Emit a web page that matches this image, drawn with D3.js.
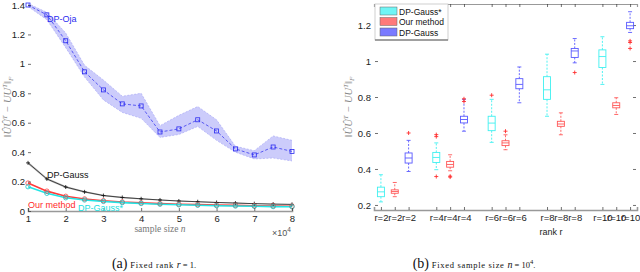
<!DOCTYPE html>
<html>
<head>
<meta charset="utf-8">
<script src="https://cdn.jsdelivr.net/npm/d3@7"></script>
<style>
  body { margin: 0; background: #fff; }
  svg { display: block; font-family: "Liberation Sans", Arial, sans-serif; }
  .tick text { font-size: 9.5px; fill: #222; }
  .tick line { stroke: #333; stroke-width: 0.7; }
  .serif { font-family: "Liberation Serif", "DejaVu Serif", serif; }
</style>
</head>
<body>
<svg id="chart" width="640" height="272"></svg>
<script>
// ---- left panel: error vs sample size (x in units of 10^4) ----
var sampleSizes = [1, 1.5, 2, 2.5, 3, 3.5, 4, 4.5, 5, 5.5, 6, 6.5, 7, 7.5, 8];
var ojaMean  = [1.40, 1.333, 1.157, 0.946, 0.823, 0.728, 0.714, 0.537, 0.558, 0.62, 0.544, 0.422, 0.381, 0.435, 0.405];
var ojaLow   = [1.39, 1.30, 1.11, 0.91, 0.755, 0.67, 0.63, 0.50, 0.52, 0.575, 0.48, 0.40, 0.354, 0.36, 0.34];
var ojaHigh  = [1.41, 1.35, 1.21, 0.99, 0.89, 0.78, 0.80, 0.58, 0.65, 0.71, 0.62, 0.44, 0.41, 0.51, 0.48];
var gaussMean = [0.327, 0.218, 0.163, 0.13, 0.105, 0.092, 0.083, 0.075, 0.068, 0.063, 0.058, 0.054, 0.05, 0.047, 0.045];
var gaussLow  = [0.317, 0.21, 0.156, 0.124, 0.1, 0.087, 0.079, 0.071, 0.064, 0.059, 0.055, 0.051, 0.047, 0.044, 0.042];
var gaussHigh = [0.337, 0.226, 0.17, 0.136, 0.11, 0.097, 0.087, 0.079, 0.072, 0.067, 0.061, 0.057, 0.053, 0.05, 0.048];
var oursMean = [0.19, 0.135, 0.1, 0.082, 0.07, 0.061, 0.055, 0.05, 0.046, 0.043, 0.04, 0.038, 0.036, 0.034, 0.032];
var starMean = [0.165, 0.12, 0.09, 0.075, 0.065, 0.057, 0.051, 0.046, 0.042, 0.039, 0.036, 0.034, 0.032, 0.03, 0.029];
var leftXTicks = [1, 2, 3, 4, 5, 6, 7, 8];
var leftYTicks = [0, 0.2, 0.4, 0.6, 0.8, 1, 1.2, 1.4];

// ---- right panel: boxplots vs rank ----
var rankLabels = ['r=2', 'r=4', 'r=6', 'r=8', 'r=10'];
var starQ1  = [0.246, 0.436, 0.613, 0.787, 0.964];
var starMed = [0.273, 0.464, 0.655, 0.84, 1.025];
var starQ3  = [0.299, 0.492, 0.693, 0.913, 1.062];
var starLo  = [0.217, 0.396, 0.548, 0.693, 0.87];
var starHi  = [0.368, 0.545, 0.787, 1.038, 1.135];
var starOut = [[], [0.591, 0.58, 0.358], [0.81], [], []];
var oursQ1  = [0.265, 0.41, 0.53, 0.637, 0.74];
var oursMed = [0.275, 0.425, 0.545, 0.65, 0.753];
var oursQ3  = [0.284, 0.442, 0.557, 0.665, 0.768];
var oursLo  = [0.246, 0.39, 0.507, 0.59, 0.703];
var oursHi  = [0.325, 0.479, 0.59, 0.712, 0.796];
var oursOut = [[], [0.36, 0.355], [0.61], [], []];
var gaussQ1  = [0.433, 0.656, 0.846, 1.02, 1.18];
var gaussMed = [0.461, 0.675, 0.87, 1.056, 1.196];
var gaussQ3  = [0.489, 0.693, 0.902, 1.07, 1.215];
var gaussLo  = [0.386, 0.61, 0.768, 0.99, 1.159];
var gaussHi  = [0.559, 0.787, 0.967, 1.125, 1.274];
var gaussOut = [[0.60], [0.79, 0.775], [], [0.936], [1.112, 1.103, 1.07]];
var rightYTicks = [0.2, 0.4, 0.6, 0.8, 1, 1.2];
var legendNames = ['DP-Gauss*', 'Our method', 'DP-Gauss'];

var svg = d3.select('#chart');

function normLabel(g, tx, ty) {
    // ||U^U^T - UU^T||_F, rotated
    var yl = g.append('text').attr('class', 'serif')
        .attr('transform', 'translate(' + tx + ',' + ty + ') rotate(-90)').attr('text-anchor', 'middle')
        .attr('font-size', 10.5).attr('fill', '#888').attr('font-style', 'italic');
    yl.append('tspan').text('\u2016\u00db\u00db');
    yl.append('tspan').attr('dy', -4).attr('font-size', 7).text('T');
    yl.append('tspan').attr('dy', 4).text(' \u2212 UU');
    yl.append('tspan').attr('dy', -4).attr('font-size', 7).text('T');
    yl.append('tspan').attr('dy', 4).text('\u2016');
    yl.append('tspan').attr('dy', 2).attr('font-size', 7).text('F');
}

function drawLeft() {
    var x = d3.scaleLinear().domain([1, 8]).range([28, 292]);
    var y = d3.scaleLinear().domain([0, 1.4]).range([211, 5]);
    var g = svg.append('g');
    var lineGen = d3.line()
        .x(function(d, i) { return x(sampleSizes[i]); })
        .y(function(d) { return y(d); });

    function band(lo, hi, fill, opacity) {
        var area = d3.area()
            .x(function(d, i) { return x(sampleSizes[i]); })
            .y0(function(d, i) { return y(lo[i]); })
            .y1(function(d, i) { return y(hi[i]); });
        g.append('path').datum(lo).attr('d', area)
            .attr('fill', fill).attr('fill-opacity', opacity).attr('stroke', 'none');
    }

    function line(values, color, dash, width) {
        g.append('path').datum(values).attr('d', lineGen)
            .attr('fill', 'none').attr('stroke', color)
            .attr('stroke-width', width).attr('stroke-dasharray', dash);
    }

    band(ojaLow, ojaHigh, '#c9c9fb', 0.95);
    line(ojaHigh, '#a3a3f5', '2,1.5', 0.6);
    line(ojaLow, '#a3a3f5', '2,1.5', 0.6);
    band(gaussLow, gaussHigh, '#aaaaaa', 0.8);

    line(ojaMean, '#3b3bf0', '3,2', 0.8);
    line(gaussMean, '#222', null, 0.8);
    line(oursMean, '#ff3b3b', null, 1.6);
    line(starMean, '#22e5e5', null, 1.6);

    g.selectAll('.sq').data(ojaMean).enter().append('rect')
        .attr('x', function(d, i) { return x(sampleSizes[i]) - 2; })
        .attr('y', function(d) { return y(d) - 2; })
        .attr('width', 4).attr('height', 4)
        .attr('fill', 'none').attr('stroke', '#2a2af0').attr('stroke-width', 0.8);
    g.selectAll('.pl').data(gaussMean).enter().append('path')
        .attr('d', function(d, i) {
            var cx = x(sampleSizes[i]), cy = y(d);
            return 'M' + (cx - 2) + ',' + cy + 'H' + (cx + 2) + 'M' + cx + ',' + (cy - 2) + 'V' + (cy + 2);
        })
        .attr('stroke', '#111').attr('stroke-width', 0.8);
    g.selectAll('.rc').data(oursMean).enter().append('circle')
        .attr('cx', function(d, i) { return x(sampleSizes[i]); })
        .attr('cy', function(d) { return y(d); })
        .attr('r', 2.2).attr('fill', 'none').attr('stroke', '#ff4040').attr('stroke-width', 0.8);
    g.selectAll('.cc').data(starMean).enter().append('circle')
        .attr('cx', function(d, i) { return x(sampleSizes[i]); })
        .attr('cy', function(d) { return y(d); })
        .attr('r', 2.2).attr('fill', 'none').attr('stroke', '#15c8c8').attr('stroke-width', 0.8);

    var xa = g.append('g').attr('transform', 'translate(0,211)')
        .call(d3.axisBottom(x).tickValues(leftXTicks).tickSize(-3).tickPadding(4).tickFormat(d3.format('d')));
    xa.select('.domain').attr('stroke', '#999').attr('stroke-width', 1.6);

    var ya = g.append('g').attr('transform', 'translate(28,0)')
        .call(d3.axisLeft(y).tickValues(leftYTicks).tickSize(-3).tickPadding(3).tickFormat(d3.format('')));
    ya.select('.domain').remove();

    g.append('text').attr('x', 272).attr('y', 236).attr('font-size', 9).attr('fill', '#555')
        .text('\u00d710').append('tspan').attr('dy', -4).attr('font-size', 6.5).text('4');

    g.append('text').attr('class', 'serif').attr('x', 160).attr('y', 232).attr('text-anchor', 'middle')
        .attr('font-size', 9.5).attr('fill', '#777')
        .text('sample size ').append('tspan').attr('font-style', 'italic').text('n');

    normLabel(g, 11, 107);

    g.append('text').attr('x', 47).attr('y', 22).attr('font-size', 9).attr('fill', '#2b2bf0').text('DP-Oja');
    g.append('text').attr('x', 47).attr('y', 178).attr('font-size', 9).attr('fill', '#111').text('DP-Gauss');
    g.append('text').attr('x', 28).attr('y', 208).attr('font-size', 9).attr('fill', '#ff2a2a').text('Our method');
    g.append('text').attr('x', 78).attr('y', 211).attr('font-size', 9).attr('fill', '#19e0e0').text('DP-Gauss*');

    var cap = g.append('text').attr('class', 'serif').attr('x', 154).attr('y', 268).attr('text-anchor', 'middle')
        .attr('fill', '#111');
    cap.append('tspan').attr('font-size', 14).text('(a)');
    cap.append('tspan').attr('font-size', 8.5).attr('letter-spacing', 0.7).text('  Fixed rank ');
    cap.append('tspan').attr('font-size', 10).attr('font-style', 'italic').text('r');
    cap.append('tspan').attr('font-size', 8.5).text(' = 1.');
}

function drawRight() {
    var x = d3.scaleLinear().domain([0.5, 19.5]).range([374, 637]);
    var y = d3.scaleLinear().domain([0.172, 1.317]).range([210, 4]);
    var g = svg.append('g');

    var methods = [
        { q1: starQ1, med: starMed, q3: starQ3, lo: starLo, hi: starHi, out: starOut, color: '#3ff0f0', offset: -1 },
        { q1: oursQ1, med: oursMed, q3: oursQ3, lo: oursLo, hi: oursHi, out: oursOut, color: '#ff5858', offset: 0 },
        { q1: gaussQ1, med: gaussMed, q3: gaussQ3, lo: gaussLo, hi: gaussHi, out: gaussOut, color: '#5a5aff', offset: 1 }
    ];

    var tickPos = [], tickLab = [];
    rankLabels.forEach(function(lab, gi) {
        methods.forEach(function(m) {
            tickPos.push(gi * 4 + 2 + m.offset);
            tickLab.push(lab);
        });
    });

    var xb = g.append('g').attr('transform', 'translate(0,210)')
        .call(d3.axisBottom(x).tickValues(tickPos).tickSize(-3).tickPadding(4)
            .tickFormat(function(d, i) { return tickLab[i]; }));
    xb.select('.domain').attr('stroke', '#999').attr('stroke-width', 1.6);
    xb.selectAll('.tick text').attr('font-size', 9);

    var xt = g.append('g').attr('transform', 'translate(0,4)')
        .call(d3.axisTop(x).tickValues(tickPos).tickSize(-3).tickFormat(''));
    xt.select('.domain').attr('stroke', '#999').attr('stroke-width', 1.2);

    var ya = g.append('g').attr('transform', 'translate(375,0)')
        .call(d3.axisLeft(y).tickValues(rightYTicks).tickSize(-3).tickPadding(4).tickFormat(d3.format('')));
    ya.select('.domain').remove();
    var yr = g.append('g').attr('transform', 'translate(636,0)')
        .call(d3.axisRight(y).tickValues(rightYTicks).tickSize(-3).tickFormat(''));
    yr.select('.domain').remove();

    var bw = 7;
    methods.forEach(function(m) {
        rankLabels.forEach(function(lab, gi) {
            var cx = x(gi * 4 + 2 + m.offset);
            var bg = g.append('g').attr('stroke', m.color).attr('fill', 'none').attr('stroke-width', 0.9);
            bg.append('line').attr('x1', cx).attr('x2', cx).attr('y1', y(m.q3[gi])).attr('y2', y(m.hi[gi]))
                .attr('stroke-dasharray', '2,1.5');
            bg.append('line').attr('x1', cx).attr('x2', cx).attr('y1', y(m.q1[gi])).attr('y2', y(m.lo[gi]))
                .attr('stroke-dasharray', '2,1.5');
            bg.append('line').attr('x1', cx - 2).attr('x2', cx + 2).attr('y1', y(m.hi[gi])).attr('y2', y(m.hi[gi]));
            bg.append('line').attr('x1', cx - 2).attr('x2', cx + 2).attr('y1', y(m.lo[gi])).attr('y2', y(m.lo[gi]));
            bg.append('rect').attr('x', cx - bw / 2).attr('y', y(m.q3[gi]))
                .attr('width', bw).attr('height', y(m.q1[gi]) - y(m.q3[gi]));
            bg.append('line').attr('x1', cx - bw / 2).attr('x2', cx + bw / 2)
                .attr('y1', y(m.med[gi])).attr('y2', y(m.med[gi]));
            m.out[gi].forEach(function(v) {
                var oy = y(v);
                g.append('path').attr('d', 'M' + (cx - 2) + ',' + oy + 'H' + (cx + 2) + 'M' + cx + ',' + (oy - 2) + 'V' + (oy + 2))
                    .attr('stroke', '#ff3030').attr('stroke-width', 0.9);
            });
        });
    });

    // legend
    var lg = g.append('g');
    lg.append('rect').attr('x', 375).attr('y', 4).attr('width', 73).attr('height', 36)
        .attr('fill', '#fff').attr('stroke', '#bbb').attr('stroke-width', 0.7);
    lg.append('line').attr('x1', 375).attr('x2', 448).attr('y1', 40).attr('y2', 40)
        .attr('stroke', '#888').attr('stroke-width', 1.4);
    var legFill = ['#6ff5f5', '#ff7a7a', '#7a7aff'];
    legendNames.forEach(function(name, i) {
        lg.append('rect').attr('x', 380).attr('y', 7 + i * 10.5).attr('width', 17).attr('height', 8)
            .attr('fill', legFill[i]).attr('stroke', '#666').attr('stroke-width', 0.5);
        lg.append('text').attr('x', 399).attr('y', 14.5 + i * 10.5).attr('font-size', 8.5).attr('fill', '#111').text(name);
    });

    g.append('text').attr('x', 551).attr('y', 235).attr('text-anchor', 'middle')
        .attr('font-size', 9).attr('fill', '#222').text('rank r');

    normLabel(g, 352, 107);

    var cap = g.append('text').attr('class', 'serif').attr('x', 474).attr('y', 268).attr('text-anchor', 'middle')
        .attr('fill', '#111');
    cap.append('tspan').attr('font-size', 14).text('(b)');
    cap.append('tspan').attr('font-size', 8.5).attr('letter-spacing', 0.7).text('  Fixed sample size ');
    cap.append('tspan').attr('font-size', 10).attr('font-style', 'italic').text('n');
    cap.append('tspan').attr('font-size', 8.5).text(' = 10');
    cap.append('tspan').attr('font-size', 6.5).attr('dy', -4).text('4');
    cap.append('tspan').attr('font-size', 8.5).attr('dy', 4).text('.');
}

drawLeft();
drawRight();
</script>
</body>
</html>
